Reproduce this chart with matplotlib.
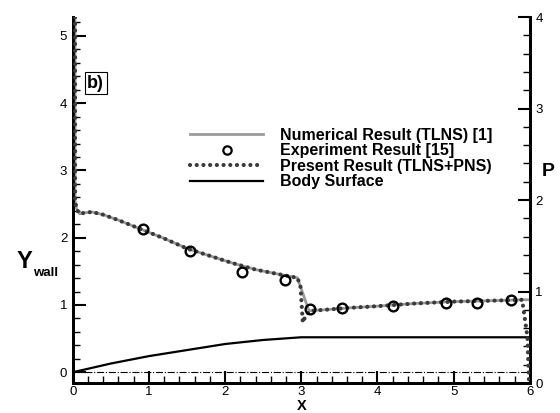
import numpy as np
import matplotlib.pyplot as plt
from matplotlib.lines import Line2D

plt.rcParams['font.family'] = ['Liberation Sans', 'DejaVu Sans']

# pressure along the wall, present result (TLNS+PNS)
x_present = [0.03, 0.03, 0.05, 0.09, 0.15, 0.25, 0.4, 0.6, 0.9, 1.2, 1.5, 1.8, 2.1,
             2.4, 2.7, 2.95, 2.99, 3.02, 3.06, 3.12, 3.3, 3.6, 4.0, 4.5, 5.0, 5.5,
             5.9, 5.97, 5.99]
p_present = [4.0, 2.0, 1.9, 1.85, 1.86, 1.87, 1.84, 1.78, 1.68, 1.58, 1.47, 1.39, 1.31,
             1.24, 1.19, 1.15, 1.05, 0.66, 0.74, 0.79, 0.80, 0.82, 0.84, 0.87, 0.89,
             0.90, 0.91, 0.5, 0.0]

# numerical result (TLNS) [1]
x_tlns = [0.03, 0.03, 0.05, 0.09, 0.15, 0.25, 0.4, 0.6, 0.9, 1.2, 1.5, 1.8, 2.1,
          2.4, 2.7, 2.95, 3.1, 3.3, 3.6, 4.0, 4.5, 5.0, 5.5, 5.9, 6.0]
p_tlns = [4.0, 2.0, 1.9, 1.85, 1.86, 1.87, 1.84, 1.78, 1.68, 1.58, 1.47, 1.39, 1.31,
          1.24, 1.19, 1.15, 0.79, 0.80, 0.82, 0.84, 0.87, 0.89, 0.90, 0.91, 0.91]

# experiment [15]
x_exp = [0.92, 1.54, 2.22, 2.78, 3.12, 3.54, 4.21, 4.9, 5.31, 5.76]
p_exp = [1.68, 1.44, 1.21, 1.13, 0.81, 0.82, 0.84, 0.88, 0.88, 0.91]

# body surface
x_body = [0, 0.5, 1, 1.5, 2, 2.5, 3, 6]
y_body = [0, 0.13, 0.24, 0.33, 0.42, 0.48, 0.52, 0.52]

fig = plt.figure(figsize=(5.6, 4.13), dpi=100)
ax = fig.add_axes([0.130, 0.0726, 0.816, 0.886])
ax2 = ax.twinx()

ax.plot([0, 6], [0, 0], color='black', lw=0.8, linestyle='-.')
ax.plot(x_body, y_body, color='black', lw=1.6)

ax2.plot(x_tlns, p_tlns, color='#9a9a9a', lw=2.0, zorder=2)
ax2.plot(x_present, p_present, color='#3a3a3a', lw=3.0,
         linestyle=(0, (0.01, 1.6)), dash_capstyle='round', zorder=3)
ax2.plot(x_exp, p_exp, linestyle='none', marker='o', ms=7, mfc='none',
         mec='black', mew=1.7, zorder=4)

ax.set_xlim(0, 6)
ax.set_ylim(-0.16, 5.28)
ax2.set_ylim(0, 4)

ax.set_xticks(np.arange(0, 7, 1))
ax.set_xticks(np.arange(0, 6.01, 0.2), minor=True)
ax.set_yticks(np.arange(0, 6, 1))
ax.set_yticks(np.arange(0, 5.3, 0.2), minor=True)
ax2.set_yticks(np.arange(0, 5, 1))
ax2.set_yticks(np.arange(0, 4.01, 0.2), minor=True)

for a in (ax, ax2):
    for s in a.spines.values():
        s.set_linewidth(2)
    a.spines['top'].set_visible(False)
    a.tick_params(which='major', direction='in', length=9, width=1.5, labelsize=9.5, pad=4)
    a.tick_params(which='minor', direction='in', length=5, width=1)
ax.tick_params(which='both', top=False, right=False)
ax.tick_params(axis='x', pad=2.5)
ax2.tick_params(which='both', left=False)

ax.text(0.19, 4.3, 'b)', fontsize=13, fontweight='bold', va='center', ha='left',
        bbox=dict(facecolor='white', edgecolor='black', lw=0.8, pad=2))

fig.text(17 / 560, 1 - 261 / 413, 'Y', fontsize=17, fontweight='bold', va='center', ha='left')
fig.text(33 / 560, 1 - 273 / 413, 'wall', fontsize=9.5, fontweight='bold', va='center', ha='left')
fig.text(548 / 560, 1 - 172 / 413, 'P', fontsize=14, fontweight='bold', va='center', ha='center')
fig.text(302 / 560, 1 - 406.5 / 413, 'X', fontsize=10.5, fontweight='bold', va='center', ha='center')

handles = [
    Line2D([], [], color='#9a9a9a', lw=2.0),
    Line2D([], [], linestyle='none', marker='o', ms=6, mfc='none', mec='black', mew=1.6),
    Line2D([], [], color='#3a3a3a', lw=3.0, linestyle=(0, (0.01, 1.6)), dash_capstyle='round'),
    Line2D([], [], color='black', lw=1.6),
]
labels = ['Numerical Result (TLNS) [1]', 'Experiment Result [15]',
          'Present Result (TLNS+PNS)', 'Body Surface']
leg = ax2.legend(handles, labels, loc='upper left', bbox_to_anchor=(190 / 560, 1 - 128 / 413),
                 bbox_transform=fig.transFigure, frameon=False, borderpad=0,
                 borderaxespad=0, labelspacing=0.03, handlelength=4.6, handletextpad=1.05,
                 prop={'weight': 'bold', 'size': 11.5})

fig.savefig('out.png', dpi=100)
